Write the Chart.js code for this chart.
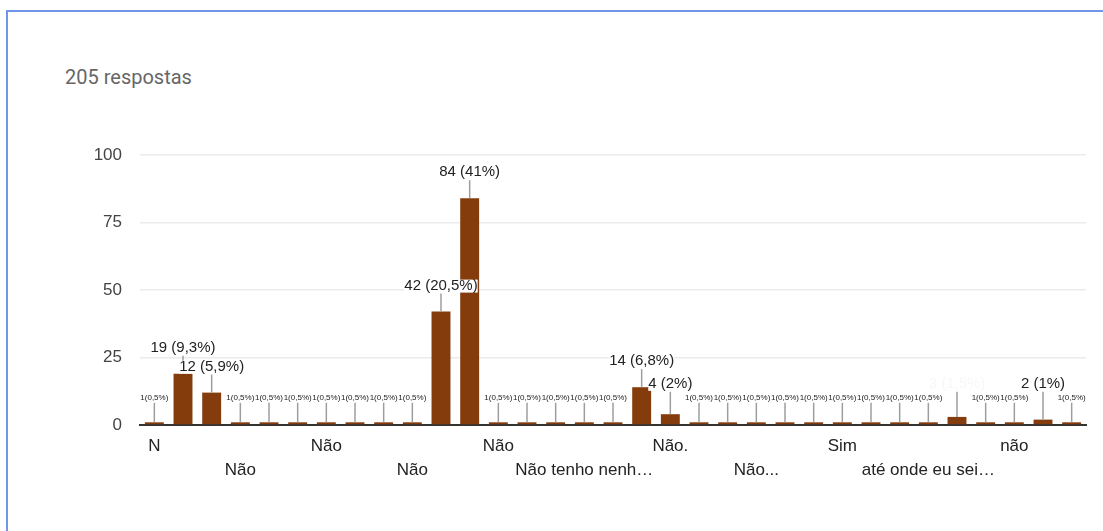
<!DOCTYPE html>
<html>
<head>
<meta charset="utf-8">
<script src="https://cdn.jsdelivr.net/npm/chart.js@4"></script>
<style>
  html, body { margin: 0; padding: 0; background: #fff; }
  body { width: 1103px; height: 531px; overflow: hidden; position: relative; font-family: "Liberation Sans", Arial, sans-serif; }
  .frame { position: absolute; left: 6px; top: 10px; width: 1200px; height: 600px; border-left: 2px solid #7096e8; border-top: 2px solid #7096e8; }
  .title { position: absolute; left: 65px; top: 66px; font-family: Roboto, sans-serif; font-size: 20px; color: #666; line-height: 22px; }
  #wrap { position: absolute; left: 0; top: 0; width: 1103px; height: 531px; }
</style>
</head>
<body>
<div class="frame"></div>
<div class="title">205 respostas</div>
<div id="wrap"><canvas id="chart"></canvas></div>
<script>
// ===== Dados =====
const totalRespostas = 205;

// rótulos visíveis do eixo x (os demais estão vazios no gráfico)
const categorias = [
  "N", "", "", "Não", "", "", "Não", "", "", "Não", "",
  "", "Não", "", "", "Não tenho nenh…", "", "", "Não.", "", "", "Não...",
  "", "", "Sim", "", "", "até onde eu sei…", "", "", "não", "", ""
];

const respostas = [
  1, 19, 12, 1, 1, 1, 1, 1, 1, 1, 42,
  84, 1, 1, 1, 1, 1, 14, 4, 1, 1, 1,
  1, 1, 1, 1, 1, 1, 3, 1, 1, 2, 1
];

const yTicks = [0, 25, 50, 75, 100];

// ===== Rótulos com linha guia =====
function pctText(v) {
  const p = Math.round(v / totalRespostas * 1000) / 10;
  return String(p).replace(".", ",");
}

const labelPlugin = {
  id: "rotulos",
  afterDatasetsDraw(chart, args, opts) {
    const ctx = chart.ctx;
    const meta = chart.getDatasetMeta(0);
    const items = meta.data.map((bar, i) => {
      const v = respostas[i];
      const small = v <= 1;
      const size = small ? 8 : 15;
      const text = small ? `${v}(${pctText(v)}%)` : `${v} (${pctText(v)}%)`;
      ctx.font = `${size}px "Liberation Sans", Arial, sans-serif`;
      const w = ctx.measureText(text).width;
      const h = small ? 9 : 14;
      return { i, v, small, size, text, w, h, x: bar.x, top: bar.y, y: bar.y - (small ? 25 : 26) };
    });

    // pequenos primeiro, depois os maiores sobem se colidirem
    const placed = [];
    const order = items.slice().sort((a, b) => a.v - b.v || a.i - b.i);
    order.forEach(it => {
      if (!it.small) {
        let moved = true;
        while (moved) {
          moved = false;
          for (const p of placed) {
            const ox = Math.abs(it.x - p.x) < (it.w + p.w) / 2 + 1;
            const oy = Math.abs(it.y - p.y) < (it.h + p.h) / 2 + 1;
            if (ox && oy) {
              it.y = p.y - p.h / 2 - it.h / 2 - 2;
              moved = true;
            }
          }
        }
      }
      placed.push(it);
    });

    ctx.save();
    // linhas guia
    ctx.strokeStyle = "#9e9e9e";
    ctx.lineWidth = 1.5;
    items.forEach(it => {
      ctx.beginPath();
      ctx.moveTo(it.x, it.y + it.h / 2 + 1);
      ctx.lineTo(it.x, it.top);
      ctx.stroke();
    });
    // texto com fundo branco
    ctx.textAlign = "center";
    ctx.textBaseline = "middle";
    order.forEach(it => {
      ctx.font = `${it.size}px "Liberation Sans", Arial, sans-serif`;
      if (!it.small) {
        ctx.fillStyle = "#fff";
        ctx.fillRect(it.x - it.w / 2, it.y - it.h / 2 + 1, it.w, it.h - 1);
      }
      ctx.fillStyle = opts.faint.includes(it.i) ? "#f7f7f7" : "#222";
      ctx.fillText(it.text, it.x, it.y);
    });
    ctx.restore();
  }
};

const ctx = document.getElementById("chart").getContext("2d");
new Chart(ctx, {
  type: "bar",
  data: {
    labels: categorias,
    datasets: [{
      data: respostas,
      backgroundColor: "#843c0c",
      categoryPercentage: 0.66,
      barPercentage: 1
    }]
  },
  options: {
    responsive: true,
    maintainAspectRatio: false,
    animation: false,
    layout: { padding: { top: 155, right: 17, left: 0, bottom: 0 } },
    plugins: {
      legend: { display: false },
      tooltip: { enabled: false },
      rotulos: { faint: [28] }
    },
    scales: {
      x: {
        grid: { display: false, drawTicks: false },
        border: { color: "#333", width: 2 },
        afterFit: s => { s.height = 106; },
        ticks: {
          autoSkip: false,
          maxRotation: 0,
          padding: 9,
          color: "#222",
          font: { family: "'Liberation Sans', Arial, sans-serif", size: 17, lineHeight: 1.42 },
          callback: (val, i) => {
            if (i % 6 === 0) return categorias[i];
            if (i % 3 === 0) return ["", categorias[i]];
            return "";
          }
        }
      },
      y: {
        min: 0,
        max: 100,
        afterFit: s => { s.width = 140; },
        afterBuildTicks: s => { s.ticks = yTicks.map(v => ({ value: v })); },
        grid: { color: "#ebebeb", lineWidth: 1.5, drawTicks: false },
        border: { display: false },
        ticks: {
          padding: 18,
          color: "#444",
          font: { family: "'Liberation Sans', Arial, sans-serif", size: 17 }
        }
      }
    }
  },
  plugins: [labelPlugin]
});
</script>
</body>
</html>
